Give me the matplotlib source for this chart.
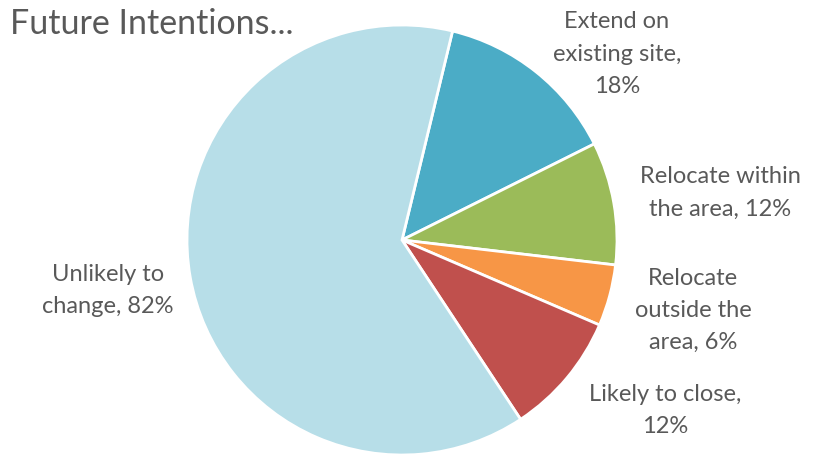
import matplotlib.pyplot as plt

# -------- data --------
categories = ["Extend on existing site", "Relocate within the area",
              "Relocate outside the area", "Likely to close", "Unlikely to change"]
values = [18, 12, 6, 12, 82]
label_text = ["Extend on\nexisting site,\n18%", "Relocate within\nthe area, 12%",
              "Relocate\noutside the\narea, 6%", "Likely to close,\n12%",
              "Unlikely to\nchange, 82%"]
colors = ["#4BACC6", "#9BBB59", "#F79646", "#C0504D", "#B7DEE8"]
label_pos = [(1.0, 0.865), (1.479, 0.219), (1.353, -0.326), (1.223, -0.791), (-1.367, -0.233)]

plt.rcParams['font.family'] = ['Lato', 'DejaVu Sans']
TXT = "#595959"

fig = plt.figure(figsize=(8.22, 4.57), dpi=100)
ax = fig.add_axes([187 / 822, 2 / 457, 430 / 822, 430 / 457])
ax.pie(values, colors=colors, startangle=76.4, counterclock=False, radius=1,
       wedgeprops=dict(edgecolor="white", linewidth=2))
ax.set_xlim(-1, 1); ax.set_ylim(-1, 1)
ax.set_aspect("equal")
ax.axis("off")

for txt, (x, y) in zip(label_text, label_pos):
    ax.text(x, y, txt, ha="center", va="center", fontsize=17, color=TXT,
            linespacing=1.65, clip_on=False)

fig.text(10 / 822, 1 - 24 / 457, "Future Intentions...", fontsize=24.5, color=TXT,
         ha="left", va="center")

fig.savefig("out.png", dpi=100)
